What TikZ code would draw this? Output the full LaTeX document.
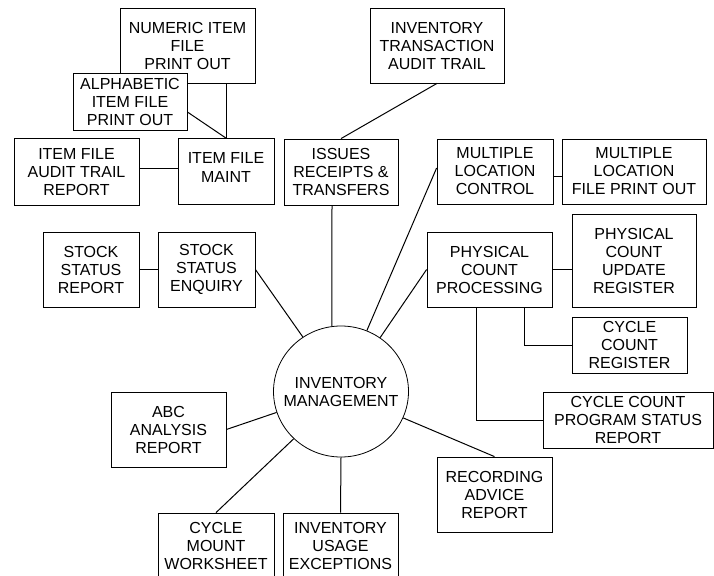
\documentclass[tikz,border=0pt]{standalone}
\usepackage{fontspec}
\setmainfont{Liberation Sans}
\usetikzlibrary{shapes.geometric}
\begin{document}
\begin{tikzpicture}[x=1pt,y=-1pt,
  box/.style={draw, fill=white, line width=0.8pt, align=center, inner sep=0pt,
    font=\fontsize{16}{18}\selectfont},
  lbl/.style={align=center, inner sep=0pt, font=\fontsize{16}{18}\selectfont},
  conn/.style={line width=1pt}]
\useasboundingbox[fill=white] (0,0) rectangle (714,575);
\clip (0,0) rectangle (714,575);

% hub
\node[draw, ellipse, fill=white, line width=0.8pt, inner sep=0pt,
  minimum width=135pt, minimum height=131pt] (c) at (341,391.5) {};
\node[lbl] (ctext) at (c.center) {INVENTORY\\MANAGEMENT};

% top-left cluster
\node[box, minimum width=135pt, minimum height=75pt] (num) at (187.5,45.5) {NUMERIC ITEM\\FILE\\PRINT OUT};
\node[box, minimum width=114pt, minimum height=57pt] (alpha) at (130,101.5) {ALPHABETIC\\ITEM FILE\\PRINT OUT};
\node[box, minimum width=125pt, minimum height=67pt] (audit) at (76.5,172) {ITEM FILE\\AUDIT TRAIL\\REPORT};
\node[box, minimum width=96pt, minimum height=66pt] (maint) at (226,171.5) {};
\node[lbl] (mainttext) at ([yshift=4pt]maint.center) {ITEM FILE\\[1pt]MAINT};

% top middle / right
\node[box, minimum width=134pt, minimum height=75pt] (trans) at (437,45.5) {INVENTORY\\TRANSACTION\\AUDIT TRAIL};
\node[box, minimum width=114pt, minimum height=66pt] (issues) at (341,172) {ISSUES\\RECEIPTS \&\\TRANSFERS};
\node[box, minimum width=116pt, minimum height=65pt] (mlc) at (495,171.5) {MULTIPLE\\LOCATION\\CONTROL};
\node[box, minimum width=144pt, minimum height=65pt] (mlfp) at (634,171.5) {MULTIPLE\\LOCATION\\FILE PRINT OUT};

% middle row
\node[box, minimum width=96pt, minimum height=75pt] (ssr) at (91,269.5) {STOCK\\STATUS\\REPORT};
\node[box, minimum width=97pt, minimum height=75pt] (sse) at (206.5,269.5) {STOCK\\STATUS\\ENQUIRY};
\node[box, minimum width=125pt, minimum height=75pt] (pcp) at (489.5,269.5) {PHYSICAL\\COUNT\\PROCESSING};
\node[box, minimum width=124pt, minimum height=93pt] (pcur) at (634,260.5) {PHYSICAL\\COUNT\\UPDATE\\REGISTER};
\node[box, minimum width=115pt, minimum height=56pt] (ccr) at (629.5,345) {CYCLE\\COUNT\\REGISTER};
\node[box, minimum width=170pt, minimum height=56pt] (ccps) at (628,420) {CYCLE COUNT\\PROGRAM STATUS\\REPORT};

% lower
\node[box, minimum width=115pt, minimum height=75pt] (abc) at (168.5,429.5) {ABC\\ANALYSIS\\REPORT};
\node[box, minimum width=115pt, minimum height=75pt] (rec) at (494.5,494.5) {RECORDING\\ADVICE\\REPORT};
\node[box, minimum width=116pt, minimum height=65pt] (cmw) at (216,545.5) {CYCLE\\MOUNT\\WORKSHEET};
\node[box, minimum width=115pt, minimum height=65pt] (iue) at (340.5,545.5) {INVENTORY\\USAGE\\EXCEPTIONS};

% connectors
\draw[conn] (maint.north) -- (maint.north |- num.south);
\draw[conn] ([yshift=-10.5pt]alpha.east) -- (maint.north);
\draw[conn] (audit.east |- 0,168) -- (maint.west |- 0,168);
\draw[conn] (trans.south) -- (issues.north);
\draw[conn] (mlc.east |- 0,176) -- (mlfp.west |- 0,176);
\draw[conn] (ssr.east) -- (sse.west);
\draw[conn] (pcp.east) -- (pcur.west |- pcp.east);
\draw[conn] ([xshift=34.5pt]pcp.south) |- (ccr.west);
\draw[conn] ([xshift=-13.5pt]pcp.south) |- (ccps.west);

\draw[conn] (sse.east) -- (c.125);
\draw[conn] ([xshift=-9pt]issues.south) -- (c.98);
\draw[conn] ([yshift=3.5pt]mlc.west) -- (c.67);
\draw[conn] (pcp.west) -- (c.54);
\draw[conn] (c.-23) -- (rec.north);
\draw[conn] (c.-90) -- (iue.north);
\draw[conn] (c.-135) -- (cmw.north);
\draw[conn] (c.198) -- (abc.east);
\end{tikzpicture}
\end{document}
